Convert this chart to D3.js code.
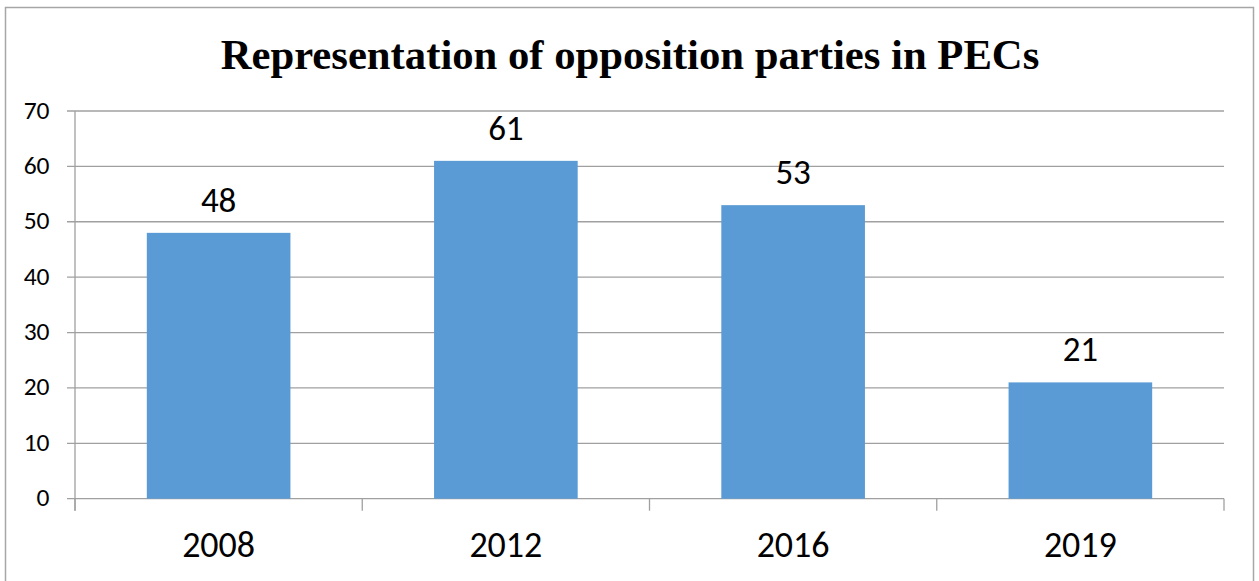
<!DOCTYPE html>
<html><head><meta charset="utf-8">
<script src="https://cdn.jsdelivr.net/npm/d3@7"></script>
<style>body{margin:0;background:#fff}svg{display:block}</style>
</head><body>
<svg id="c" width="1259" height="581"></svg>
<script>
const categories = ["2008","2012","2016","2019"];
const values = [48,61,53,21];
const yTicks = [0,10,20,30,40,50,60,70];
const title = "Representation of opposition parties in PECs";

const svg = d3.select("#c");
const L = 75, R = 1224, T = 111, B = 498.7;
const font = "Carlito, Calibri, Liberation Sans, Arial, sans-serif";

svg.append("rect").attr("x",5.5).attr("y",7.5).attr("width",1248).attr("height",600)
  .attr("fill","#fff").attr("stroke","#a6a6a6").attr("stroke-width",1.5);

svg.append("text").attr("x",630).attr("y",69).attr("text-anchor","middle")
  .attr("font-family","Liberation Serif, Times New Roman, serif").attr("font-weight","bold")
  .attr("font-size",42.7).attr("fill","#000").text(title);

const x = d3.scaleBand().domain(categories).range([L,R]).paddingInner(0.5).paddingOuter(0.25);
const y = d3.scaleLinear().domain([0,70]).range([B,T]);

// gridlines
svg.append("g").selectAll("line").data(yTicks).join("line")
  .attr("x1",L-8).attr("x2",R).attr("y1",d=>y(d)).attr("y2",d=>y(d))
  .attr("stroke","#a0a0a0").attr("stroke-width",1.3);

// y axis line
svg.append("line").attr("x1",L).attr("x2",L).attr("y1",T).attr("y2",B+12)
  .attr("stroke","#a0a0a0").attr("stroke-width",1.3);

// category boundary ticks
const bounds = d3.range(categories.length+1).map(i=>L+i*(R-L)/categories.length);
svg.append("g").selectAll("line").data(bounds).join("line")
  .attr("x1",d=>d).attr("x2",d=>d).attr("y1",B).attr("y2",B+12)
  .attr("stroke","#a0a0a0").attr("stroke-width",1.3);

// y labels
svg.append("g").selectAll("text").data(yTicks).join("text")
  .attr("x",49.5).attr("y",d=>y(d)+7.5).attr("text-anchor","end")
  .attr("font-family",font).attr("font-size",25.5)
  .attr("fill","#000").text(d=>d);

// bars
svg.append("g").selectAll("rect").data(values).join("rect")
  .attr("x",(d,i)=>x(categories[i])).attr("width",x.bandwidth())
  .attr("y",d=>y(d)).attr("height",d=>B-y(d)).attr("fill","#5B9BD5");

// data labels
svg.append("g").selectAll("text").data(values).join("text")
  .attr("x",(d,i)=>x(categories[i])+x.bandwidth()/2).attr("y",d=>y(d)-21)
  .attr("text-anchor","middle")
  .attr("font-family",font).attr("font-size",35)
  .attr("fill","#000").text(d=>d);

// x labels
svg.append("g").selectAll("text").data(categories).join("text")
  .attr("x",d=>x(d)+x.bandwidth()/2).attr("y",557).attr("text-anchor","middle")
  .attr("font-family",font).attr("font-size",36)
  .attr("fill","#000").text(d=>d);
</script>
</body></html>
